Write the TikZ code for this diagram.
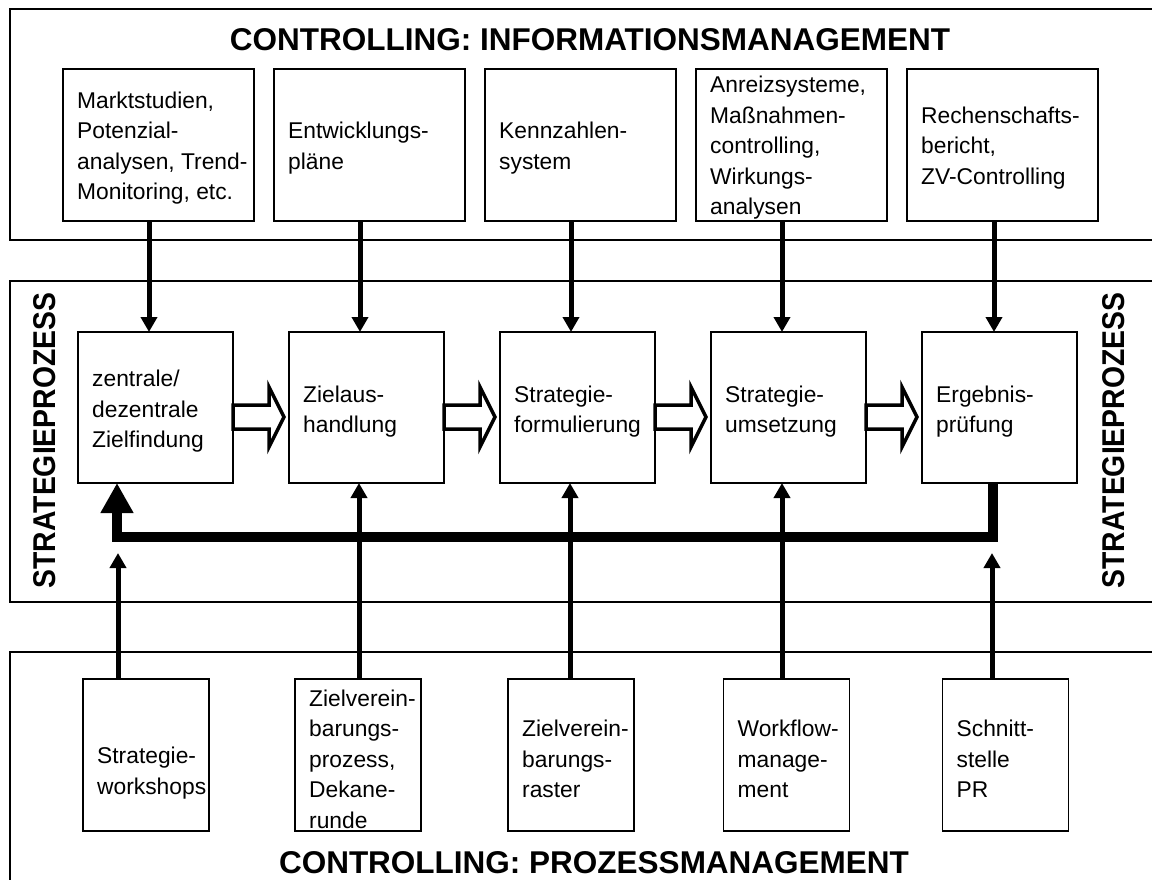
\documentclass[tikz,border=0pt]{standalone}
\usepackage{fontspec}
\setmainfont{Liberation Sans}
\usepackage{graphicx}
\usetikzlibrary{arrows.meta,calc}
\newcommand\hollowarrow[2]{%
  \draw[hollow] ($(#1.east)+(0,-2.5)$) -- ($(#2.west)+(-20,-2.5)$) -- ($(#2.west)+(-20,-20.5)$)
    -- ($(#2.west)+(-5,9.5)$) -- ($(#2.west)+(-20,39.5)$) -- ($(#2.west)+(-20,21.5)$)
    -- ($(#1.east)+(0,21.5)$) -- cycle;}
\begin{document}
\begin{tikzpicture}[x=1pt,y=-1pt,
  frame/.style={draw, line width=1.1pt, inner sep=0, outer sep=0, minimum width=1160pt},
  box/.style={draw, fill=white, line width=1.1pt, inner sep=0, outer sep=0},
  topbox/.style={box, minimum width=191pt, minimum height=152pt},
  midbox/.style={box, minimum width=155pt, minimum height=151pt},
  botbox/.style={box, minimum width=126pt, minimum height=152pt},
  txt/.style={anchor=west, align=left, inner sep=0, font=\fontsize{22.8}{30.5}\selectfont},
  title/.style={inner sep=0, font=\fontsize{31.5}{36}\selectfont\bfseries},
  flow/.style={line width=5pt, -{Triangle[width=16pt,length=15pt]}},
  feedback/.style={line width=10pt, line join=miter, -{Triangle[width=31pt,length=30pt]}},
  hollow/.style={draw, fill=white, line width=3.5pt, line join=miter}
]
\useasboundingbox (0,0) rectangle (1152,879);
\clip (0,0) rectangle (1152,879);

% frames
\node[frame, minimum height=231pt] (finfo) at (590,124.5) {};
\node[frame, minimum height=321pt] (fstrat) at (590,441.5) {};
\node[frame, minimum height=260pt] (fproc) at (590,782) {};

% titles
\node[title, anchor=base] (tinfo) at (590,50) {CONTROLLING: INFORMATIONSMANAGEMENT};
\node[title, anchor=base] (tproc) at (594,873) {CONTROLLING: PROZESSMANAGEMENT};
\node[title, rotate=90] (sl) at (45,440.5) {\scalebox{0.9}[1]{STRATEGIEPROZESS}};
\node[title, rotate=90] (sr) at (1114,440.5) {\scalebox{0.9}[1]{STRATEGIEPROZESS}};

% top boxes
\node[topbox] (t1) at (158.5,145) {};
\node[topbox] (t2) at (369.5,145) {};
\node[topbox] (t3) at (580.5,145) {};
\node[topbox] (t4) at (791.5,145) {};
\node[topbox] (t5) at (1002.5,145) {};
\node[txt] (t1x) at ($(t1.west)+(14,3)$) {Marktstudien,\\Potenzial-\\analysen, Trend-\\Monitoring, etc.};
\node[txt] (t2x) at ($(t2.west)+(14,3)$) {Entwicklungs-\\pläne};
\node[txt] (t3x) at ($(t3.west)+(14,3)$) {Kennzahlen-\\system};
\node[txt] (t4x) at ($(t4.west)+(14,3)$) {Anreizsysteme,\\Maßnahmen-\\controlling,\\Wirkungs-\\analysen};
\node[txt] (t5x) at ($(t5.west)+(14,3)$) {Rechenschafts-\\bericht,\\ZV-Controlling};

% middle boxes
\node[midbox] (m1) at (155.5,407.5) {};
\node[midbox] (m2) at (366.5,407.5) {};
\node[midbox] (m3) at (577.5,407.5) {};
\node[midbox] (m4) at (788.5,407.5) {};
\node[midbox] (m5) at (999.5,407.5) {};
\node[txt] (m1x) at ($(m1.west)+(14,4)$) {zentrale/\\dezentrale\\Zielfindung};
\node[txt] (m2x) at ($(m2.west)+(14,4)$) {Zielaus-\\handlung};
\node[txt] (m3x) at ($(m3.west)+(14,4)$) {Strategie-\\formulierung};
\node[txt] (m4x) at ($(m4.west)+(14,4)$) {Strategie-\\umsetzung};
\node[txt] (m5x) at ($(m5.west)+(14,4)$) {Ergebnis-\\prüfung};

% bottom boxes
\node[botbox] (b1) at (146,755) {};
\node[botbox] (b2) at (358,755) {};
\node[botbox] (b3) at (571,755) {};
\node[botbox] (b4) at (786.5,755) {};
\node[botbox] (b5) at (1005.5,755) {};
\node[txt] (b1x) at ($(b1.west)+(14,18)$) {Strategie-\\workshops};
\node[txt] (b2x) at ($(b2.west)+(14,4)$) {Zielverein-\\barungs-\\prozess,\\Dekane-\\runde};
\node[txt] (b3x) at ($(b3.west)+(14,4)$) {Zielverein-\\barungs-\\raster};
\node[txt] (b4x) at ($(b4.west)+(14,4)$) {Workflow-\\manage-\\ment};
\node[txt] (b5x) at ($(b5.west)+(14,4)$) {Schnitt-\\stelle\\PR};

% reference coordinates for connector columns
\coordinate (a1) at (149,0);
\coordinate (a2) at (360,0);
\coordinate (a3) at (571,0);
\coordinate (a4) at (782,0);
\coordinate (a5) at (994,0);
\coordinate (c1) at (118,0);
\coordinate (c2) at (359,0);
\coordinate (c3) at (570,0);
\coordinate (c4) at (782,0);
\coordinate (c5) at (992,0);
\coordinate (e1) at (118,553);
\coordinate (e5) at (992,553);
\coordinate (fbR) at (993,537);
\coordinate (fbL) at (117,537);

% top arrows
\draw[flow] (t1.south -| a1) -- (m1.north -| a1);
\draw[flow] (t2.south -| a2) -- (m2.north -| a2);
\draw[flow] (t3.south -| a3) -- (m3.north -| a3);
\draw[flow] (t4.south -| a4) -- (m4.north -| a4);
\draw[flow] (t5.south -| a5) -- (m5.north -| a5);

% hollow process arrows
\hollowarrow{m1}{m2}
\hollowarrow{m2}{m3}
\hollowarrow{m3}{m4}
\hollowarrow{m4}{m5}

% feedback loop
\draw[feedback] (m5.south -| fbR) -- (fbR) -- (fbL) -- (m1.south -| fbL);

% bottom arrows
\draw[flow] (b1.north -| c1) -- (e1);
\draw[flow] (b2.north -| c2) -- (m2.south -| c2);
\draw[flow] (b3.north -| c3) -- (m3.south -| c3);
\draw[flow] (b4.north -| c4) -- (m4.south -| c4);
\draw[flow] (b5.north -| c5) -- (e5);
\end{tikzpicture}
\end{document}
